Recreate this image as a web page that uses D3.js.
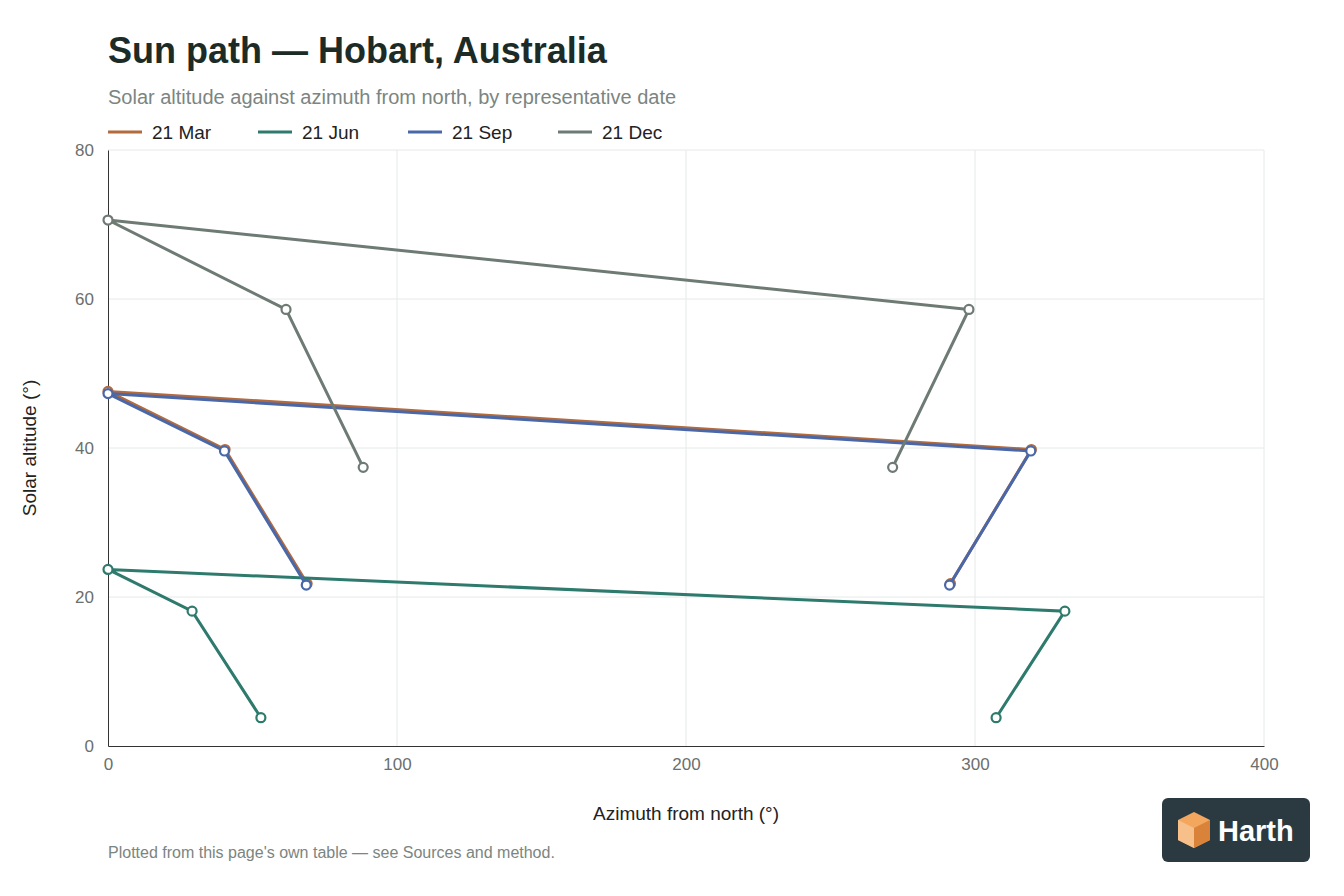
<!DOCTYPE html>
<html><head><meta charset="utf-8">
<script src="https://cdn.jsdelivr.net/npm/d3@7"></script>
<style>
body{margin:0;background:#fff;font-family:"Helvetica Neue",Arial,"Liberation Sans",sans-serif;}
.axis text{font-size:17px;fill:#6b6f6d;}
.axis path,.axis line{stroke:#333;}
</style></head><body>
<svg id="chart" width="1344" height="896"></svg>
<script>
const series = ["21 Mar", "21 Jun", "21 Sep", "21 Dec"];
const colors = ["#b36a3c", "#2e7a6c", "#4a68a8", "#6e7a74"];
const azMar = [68.9, 40.5, 0, 319.5, 291.5];
const altMar = [21.8, 39.8, 47.6, 39.8, 21.8];
const azJun = [52.9, 29.1, 0, 331.1, 307.3];
const altJun = [3.8, 18.1, 23.7, 18.1, 3.8];
const azSep = [68.6, 40.3, 0, 319.3, 291.2];
const altSep = [21.6, 39.6, 47.3, 39.6, 21.6];
const azDec = [88.3, 61.6, 0, 297.9, 271.5];
const altDec = [37.4, 58.6, 70.6, 58.6, 37.4];
const xTicks = [0, 100, 200, 300, 400];
const yTicks = [0, 20, 40, 60, 80];

const data = [[azMar, altMar], [azJun, altJun], [azSep, altSep], [azDec, altDec]]
  .map(([az, alt], i) => ({ name: series[i], color: colors[i], pts: az.map((a, j) => ({ az: a, alt: alt[j] })) }));

const svg = d3.select("#chart");
const margin = { left: 108, right: 80, top: 150, bottom: 150 };
const W = 1344, H = 896;
const innerW = W - margin.left - margin.right, innerH = H - margin.top - margin.bottom;
const g = svg.append("g").attr("transform", `translate(${margin.left},${margin.top})`);

const x = d3.scaleLinear().domain([0, 400]).range([0, innerW]);
const y = d3.scaleLinear().domain([0, 80]).range([innerH, 0]);

// grid
g.append("g").selectAll("line").data(xTicks.slice(1)).join("line")
  .attr("x1", d => x(d)).attr("x2", d => x(d)).attr("y1", 0).attr("y2", innerH)
  .attr("stroke", "#e6e9e8");
g.append("g").selectAll("line").data(yTicks.slice(1)).join("line")
  .attr("x1", 0).attr("x2", innerW).attr("y1", d => y(d)).attr("y2", d => y(d))
  .attr("stroke", "#e6e9e8");

g.append("g").attr("class", "axis").attr("transform", `translate(0,${innerH})`)
  .call(d3.axisBottom(x).tickValues(xTicks).tickSize(0).tickPadding(12).tickSizeOuter(0))
  .call(a => a.select(".domain").attr("stroke", "#333"));
g.append("g").attr("class", "axis")
  .call(d3.axisLeft(y).tickValues(yTicks).tickSize(0).tickPadding(14).tickSizeOuter(0))
  .call(a => a.select(".domain").attr("stroke", "#333"));

g.append("text").attr("x", innerW / 2).attr("y", innerH + 74).attr("text-anchor", "middle")
  .style("font-size", "19px").style("fill", "#222").text("Azimuth from north (°)");
g.append("text").attr("transform", "rotate(-90)").attr("x", -innerH / 2).attr("y", -72)
  .attr("text-anchor", "middle").style("font-size", "19px").style("fill", "#222").text("Solar altitude (°)");

const line = d3.line().x(d => x(d.az)).y(d => y(d.alt));
data.forEach(s => {
  g.append("path").datum(s.pts).attr("d", line).attr("fill", "none")
    .attr("stroke", s.color).attr("stroke-width", 3);
  g.append("g").selectAll("circle").data(s.pts).join("circle")
    .attr("cx", d => x(d.az)).attr("cy", d => y(d.alt)).attr("r", 4.5)
    .attr("fill", "#fff").attr("stroke", s.color).attr("stroke-width", 2.2);
});

// title etc.
svg.append("text").attr("x", 108).attr("y", 63).style("font-size", "36px").style("font-weight", "600")
  .style("fill", "#1d2b26").text("Sun path — Hobart, Australia");
svg.append("text").attr("x", 108).attr("y", 104).style("font-size", "20px").style("fill", "#7b8581")
  .text("Solar altitude against azimuth from north, by representative date");
const leg = svg.append("g").attr("transform", "translate(108,132)");
const lx = [0, 150, 300, 450];
series.forEach((n, i) => {
  leg.append("line").attr("x1", lx[i]).attr("x2", lx[i] + 34).attr("stroke", colors[i]).attr("stroke-width", 3);
  leg.append("text").attr("x", lx[i] + 44).attr("y", 7).style("font-size", "19px").style("fill", "#222").text(n);
});
svg.append("text").attr("x", 108).attr("y", 858).style("font-size", "16px").style("fill", "#7b8581")
  .text("Plotted from this page's own table — see Sources and method.");

// logo
const lg = svg.append("g").attr("transform", "translate(1162,798)");
lg.append("rect").attr("width", 148).attr("height", 64).attr("rx", 6).attr("fill", "#2b3a40");
lg.append("path").attr("d", "M16,22 L32,14 L48,22 L48,42 L32,50 L16,42 Z").attr("fill", "#f2a65e");
lg.append("path").attr("d", "M32,30 L48,22 L48,42 L32,50 Z").attr("fill", "#d9823a");
lg.append("path").attr("d", "M16,22 L32,30 L32,50 L16,42 Z").attr("fill", "#f7c08a");
lg.append("text").attr("x", 56).attr("y", 43).style("font-size", "29px").style("font-weight", "600")
  .style("fill", "#fff").text("Harth");
</script></body></html>
